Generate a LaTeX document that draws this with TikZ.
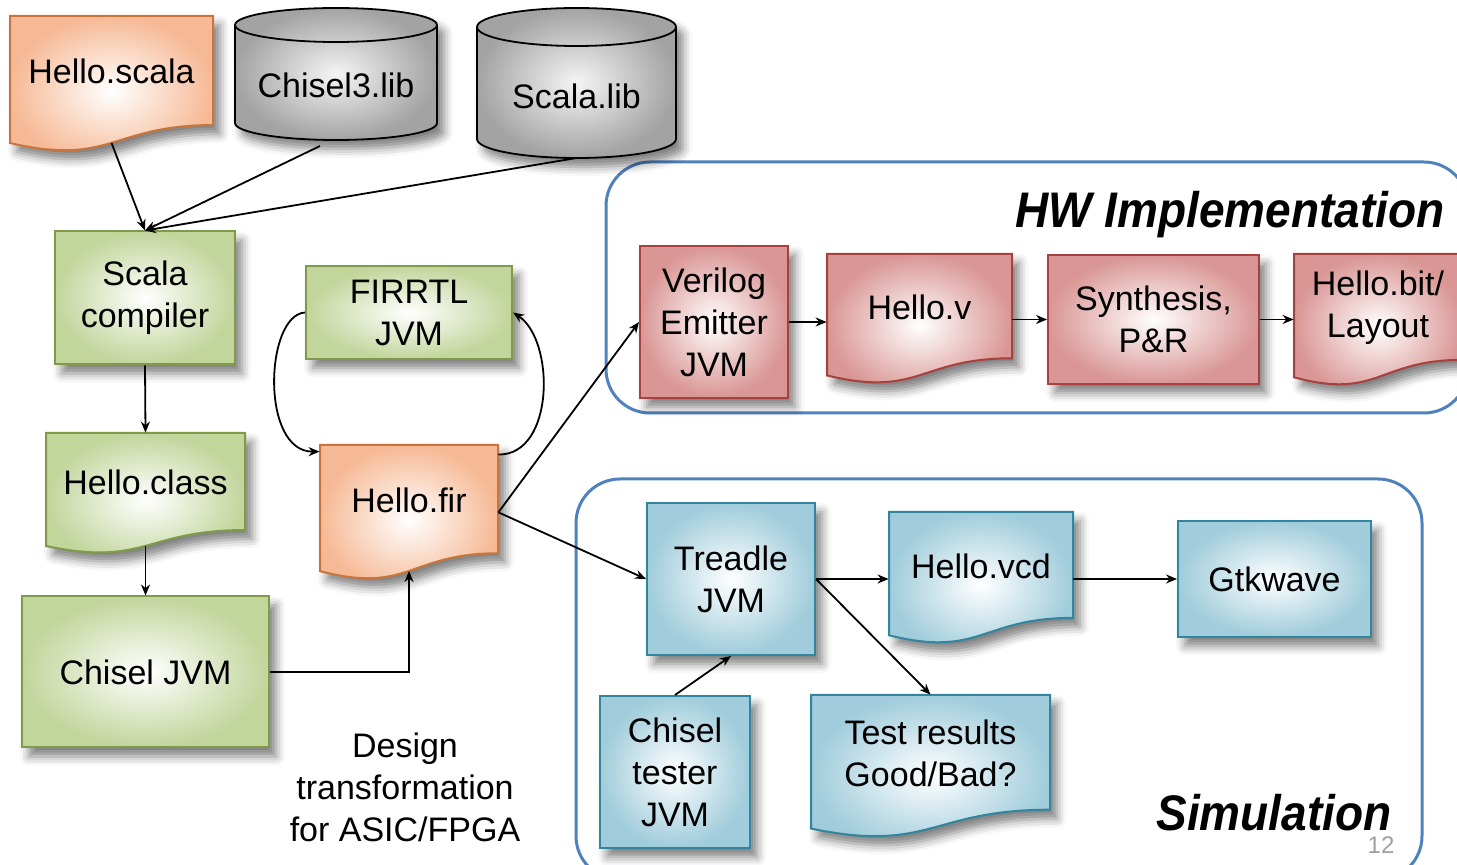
\documentclass[tikz,border=0pt]{standalone}
\usepackage{fontspec}
\usepackage{graphicx}
\setmainfont{Liberation Sans}
\usetikzlibrary{arrows.meta,shadows.blur,calc}

\definecolor{orangeE}{HTML}{F6B995}
\definecolor{orangeB}{HTML}{C8743A}
\definecolor{greenE}{HTML}{C2D59B}
\definecolor{greenB}{HTML}{7F9A48}
\definecolor{redE}{HTML}{D99694}
\definecolor{redB}{HTML}{A7413F}
\definecolor{blueE}{HTML}{A0CCDB}
\definecolor{blueB}{HTML}{31859C}
\definecolor{grayE}{HTML}{A3A3A3}
\definecolor{frameB}{HTML}{4F81BD}
\definecolor{pageno}{HTML}{A0A0A0}

\tikzset{
  conn/.style={draw=black, line width=0.9pt, -{Stealth[length=5.5pt,width=4.5pt]}},
  lbl/.style={font=\fontsize{17}{21}\selectfont, align=center, inner sep=0pt},
  soft/.style={blur shadow={shadow xshift=3.5pt, shadow yshift=-4.5pt, shadow blur radius=4.5pt, shadow opacity=50}},
  orangefill/.style={soft, inner color=white, outer color=orangeE, draw=orangeB, line width=1pt},
  greenfill/.style={soft, inner color=white, outer color=greenE, draw=greenB, line width=1pt},
  redfill/.style={soft, inner color=white, outer color=redE, draw=redB, line width=1pt},
  bluefill/.style={soft, inner color=white, outer color=blueE, draw=blueB, line width=1pt},
  grayfill/.style={soft, inner color=white!96!black, outer color=grayE, draw=black, line width=0.9pt},
  stagebox/.style={lbl, rectangle},
  frame/.style={draw=frameB, line width=1.5pt, rounded corners=22pt},
  title/.style={font=\fontsize{25}{30}\selectfont\bfseries\itshape, inner sep=0pt},
}

% document shape: name, left, top, width, height, fill style, text
\newcommand\docshape[7]{%
  \pgfmathsetmacro\dsR{#2+#4}%
  \pgfmathsetmacro\dsM{#2+0.5*#4}%
  \pgfmathsetmacro\dsA{#3+0.802*#5}%
  \pgfmathsetmacro\dsB{#3+1.107*#5}%
  \pgfmathsetmacro\dsC{#3+0.934*#5}%
  \pgfmathsetmacro\dsT{#3+0.41*#5}%
  \pgfmathsetmacro\dsW{0.5*#4}%
  \pgfmathsetmacro\dsH{0.41*#5}%
  \path[#6] (#2,#3) -- (\dsR,#3) -- (\dsR,\dsA)
     .. controls (\dsM,\dsA) and (\dsM,\dsB) .. (#2,\dsC) -- cycle;
  \node[lbl, minimum width=\dsW pt, minimum height=\dsH pt] (#1) at (\dsM,\dsT) {#7};
  \coordinate (#1-b) at (\dsM,{#3+0.933*#5});
}

% database cylinder: name, left, right, top, bottom, ellipse half height, text y, text
\newcommand\cylshape[8]{%
  \pgfmathsetmacro\cyX{(#3-#2)/4}%
  \pgfmathsetmacro\cyY{#6/2}%
  \pgfmathsetmacro\cyM{(#2+#3)/2}%
  \path[grayfill] (#2,{#4+#6}) -- (#2,{#5-#6})
     arc[start angle=180, end angle=360, x radius=\cyX pt, y radius=\cyY pt]
     -- (#3,{#4+#6})
     arc[start angle=0, end angle=180, x radius=\cyX pt, y radius=\cyY pt] -- cycle;
  \draw[line width=0.9pt] (#2,{#4+#6})
     arc[start angle=180, end angle=360, x radius=\cyX pt, y radius=\cyY pt];
  \node[lbl] (#1) at (\cyM,#7) {#8};
  \coordinate (#1-b) at (\cyM,#5);
}

\begin{document}
\begin{tikzpicture}[x=0.5pt, y=-0.5pt]
\useasboundingbox (0,0) rectangle (1457,865);

% grouping frames
\draw[frame] (606,162) rectangle (1468,413);
\draw[frame] (576,479) rectangle (1422,880);
\node[title, anchor=base east] (hwtitle) at (1445,228) {\scalebox{0.92}[1]{HW Implementation}};
\node[title, anchor=base east] (simtitle) at (1392,830) {\scalebox{0.92}[1]{Simulation}};
\node[anchor=base, inner sep=0pt, text=pageno, font=\fontsize{12}{14}\selectfont] (pg) at (1381,853) {12};

% sources and libraries
\docshape{hs}{10}{16}{203}{136}{orangefill}{Hello.scala}
\cylshape{c3}{235}{437}{8}{140}{17}{85}{Chisel3.lib}
\cylshape{sl}{477}{676}{8}{158}{19}{96}{Scala.lib}

% front end
\node[stagebox, greenfill, minimum width=90pt, minimum height=66.5pt] (sc) at (145,298) {Scala\\compiler};
\docshape{hc}{46}{433}{199}{121}{greenfill}{Hello.class}
\node[stagebox, greenfill, minimum width=123.5pt, minimum height=75.5pt] (cj) at (145.5,672) {Chisel JVM};
\node[stagebox, greenfill, minimum width=103pt, minimum height=46.5pt] (fj) at (409,312.5) {FIRRTL\\JVM};
\docshape{hf}{320}{445}{178}{135}{orangefill}{Hello.fir}
\node[lbl] (dt) at (405,787) {Design\\transformation\\for ASIC/FPGA};

% hardware implementation flow
\node[stagebox, redfill, minimum width=74pt, minimum height=76pt] (vem) at (714,322) {Verilog\\Emitter\\JVM};
\docshape{hv}{827}{254}{185}{130}{redfill}{Hello.v}
\node[stagebox, redfill, minimum width=105.5pt, minimum height=64.5pt] (syn) at (1153.5,319.5) {Synthesis,\\P\&R};
\docshape{hb}{1294}{254}{168}{132}{redfill}{Hello.bit/\\Layout}

% simulation flow
\node[stagebox, bluefill, minimum width=84pt, minimum height=76pt] (tr) at (731,579) {Treadle\\JVM};
\docshape{vcd}{889}{512}{184}{132}{bluefill}{Hello.vcd}
\node[stagebox, bluefill, minimum width=96.5pt, minimum height=58pt] (gw) at (1274.5,579) {Gtkwave};
\node[stagebox, bluefill, minimum width=75pt, minimum height=76pt] (ct) at (675,772) {Chisel\\tester\\JVM};
\docshape{tres}{811}{695}{239}{143}{bluefill}{Test results\\Good/Bad?}

% connectors
\draw[conn] (hs-b) -- (sc.north);
\draw[conn] ([xshift=-8pt,yshift=-3pt]c3-b) -- (sc.north);
\draw[conn] (sl-b) -- (sc.north);
\draw[conn] (sc.south) -- (hc.north);
\draw[conn] (hc-b) -- (cj.north);
\draw[conn] (cj.east) -| (hf-b);
\draw[conn] (fj.west) .. controls (265,315) and (260,452) .. ([yshift=-3.5pt]hf.north west);
\draw[conn] ([yshift=-5pt]hf.north east) .. controls (555,455) and (555,340) .. (fj.east);
\coordinate (hfo) at ([yshift=-6pt]hf.east);
\draw[conn] (hfo) -- (vem.west);
\draw[conn] (hfo) -- (tr.west);
\draw[conn] (vem.east) -- (vem.east -| hv.west);
\draw[conn] (syn.west -| hv.east) -- (syn.west);
\draw[conn] (syn.east) -- (syn.east -| hb.west);
\draw[conn] (tr.east) -- (tr.east -| vcd.west);
\draw[conn] (gw.west -| vcd.east) -- (gw.west);
\draw[conn] (tr.east) -- (tres.north);
\draw[conn] (ct.north) -- (tr.south);
\end{tikzpicture}
\end{document}
